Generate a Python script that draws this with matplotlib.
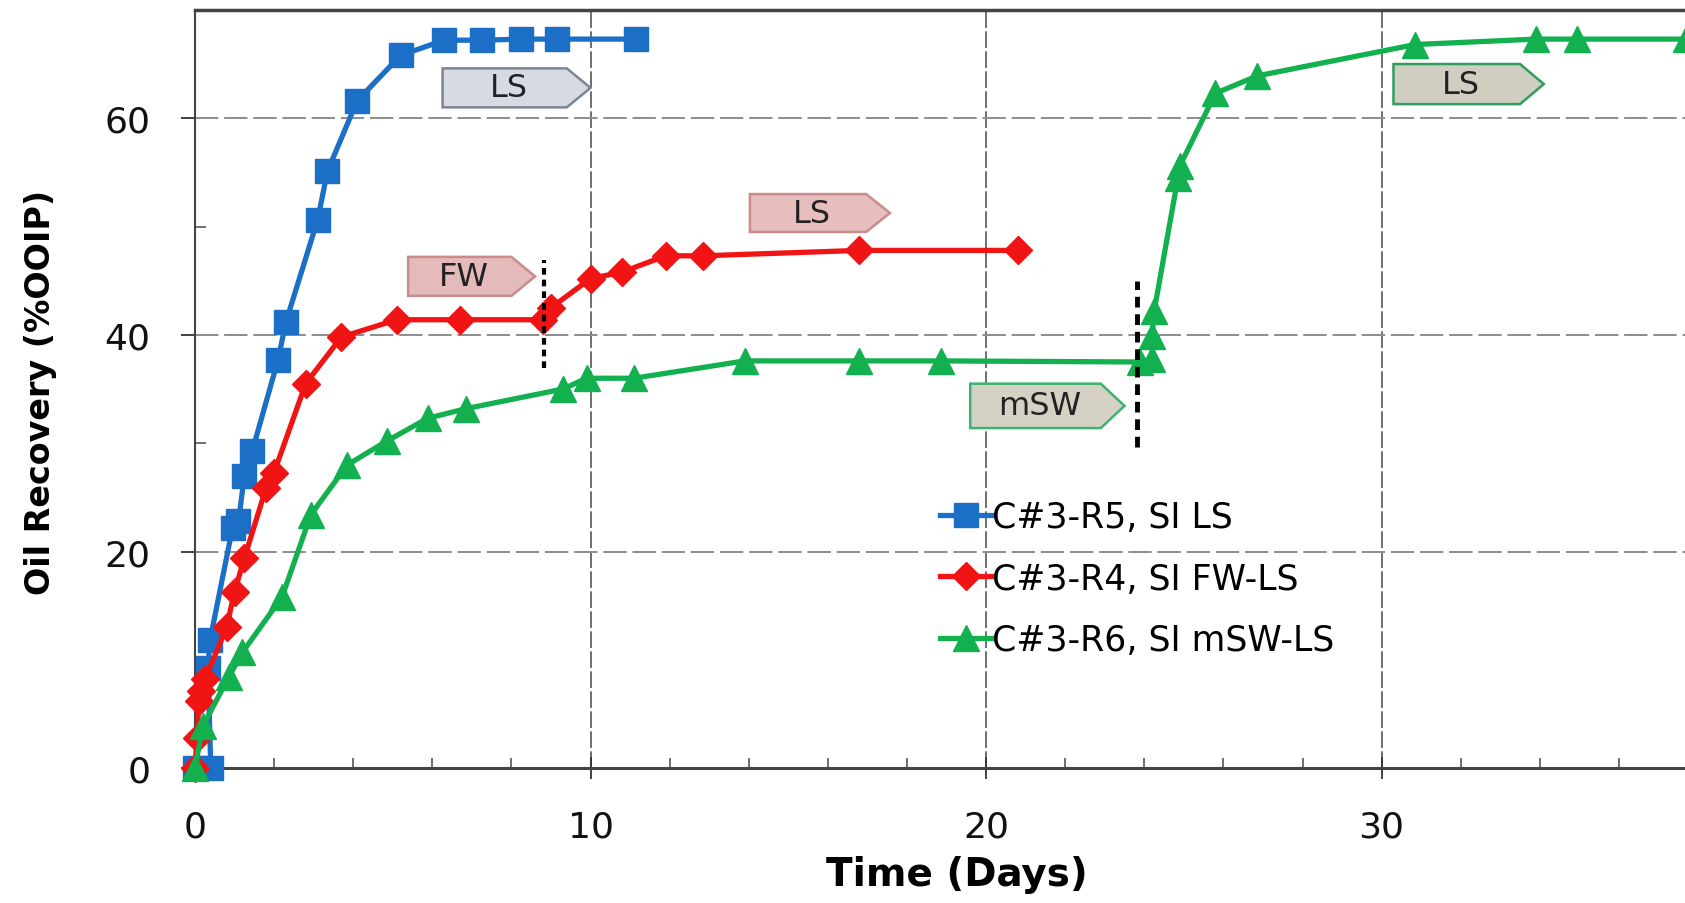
import matplotlib.pyplot as plt
from matplotlib.patches import Polygon
from matplotlib.ticker import MultipleLocator

plt.rcParams['font.family'] = ['DejaVu Sans']

# C#3-R5, SI LS
t_r5 = [0, 0.4, 0.33, 0.38, 0.95, 1.1, 1.25, 1.45, 2.1, 2.3, 3.1, 3.35, 4.1, 5.2, 6.3, 7.25, 8.25, 9.15, 11.15]
oil_r5 = [0, 0, 9.3, 11.8, 22.2, 22.8, 27.0, 29.3, 37.7, 41.2, 50.6, 55.1, 61.6, 65.8, 67.2, 67.2, 67.3, 67.3, 67.3]

# C#3-R4, SI FW-LS
t_r4 = [0, 0.05, 0.1, 0.15, 0.25, 0.8, 1.0, 1.25, 1.8, 2.0, 2.8, 3.7, 5.1, 6.7, 8.8, 9.0, 10.0, 10.8, 11.9, 12.85, 16.8, 20.8]
oil_r4 = [0, 2.8, 6.2, 7.1, 8.2, 13.0, 16.3, 19.4, 25.9, 27.3, 35.5, 39.8, 41.4, 41.4, 41.4, 42.5, 45.2, 45.8, 47.3, 47.3, 47.8, 47.8]

# C#3-R6, SI mSW-LS
t_r6 = [0, 0.2, 0.85, 1.2, 2.2, 2.93, 3.85, 4.85, 5.88, 6.86, 9.3, 9.9, 11.1, 13.9, 16.8, 18.85,
        23.9, 24.2, 24.2, 24.25, 24.85, 24.9, 25.8, 26.85, 30.85, 33.9, 34.95, 37.7]
oil_r6 = [0, 3.9, 8.4, 10.7, 15.8, 23.4, 28.0, 30.2, 32.3, 33.2, 35.0, 36.0, 36.0, 37.6, 37.6, 37.6,
          37.5, 37.8, 39.9, 42.2, 54.5, 55.6, 62.3, 63.9, 66.8, 67.3, 67.3, 67.3]

labels = ['C#3-R5, SI LS', 'C#3-R4, SI FW-LS', 'C#3-R6, SI mSW-LS']

# brine switch tags: text, x start, x end, y bottom, y top
tag_text = ['LS', 'FW', 'LS', 'mSW', 'LS']
tag_x0 = [6.26, 5.39, 14.03, 19.6, 30.3]
tag_x1 = [10.0, 8.6, 17.57, 23.5, 34.1]
tag_y0 = [61.0, 43.6, 49.5, 31.4, 61.3]
tag_y1 = [64.6, 47.2, 53.0, 35.5, 65.0]
tag_fill = ['#d6dae2', '#e5baba', '#e7bdbd', '#d5d2c5', '#d0cec0']
tag_edge = ['#7d8595', '#c98c8c', '#c98c8c', '#3cb36e', '#2e9e5e']

fig = plt.figure(figsize=(16.85, 9.04), dpi=100)
ax = fig.add_axes([0.1157, 0.149, 1 - 0.1157, 0.839])

ax.plot(t_r5, oil_r5, color='#1c6fc6', lw=3.8, marker='s', ms=17, label=labels[0], clip_on=False, zorder=5)
ax.plot(t_r4, oil_r4, color='#f01414', lw=3.8, marker='D', ms=14, label=labels[1], clip_on=False, zorder=5)
ax.plot(t_r6, oil_r6, color='#12b04f', lw=3.8, marker='^', ms=19, label=labels[2], clip_on=False, zorder=5)

# switch markers
ax.plot([8.82, 8.82], [36.9, 46.9], color='black', lw=3, ls=(0, (1.6, 1.2)), zorder=6)
ax.plot([23.81, 23.81], [29.7, 45.0], color='black', lw=3.5, ls=(0, (2.2, 1.4)), zorder=6)

tip = 0.6
for i in range(len(tag_text)):
    x0, x1, y0, y1 = tag_x0[i], tag_x1[i], tag_y0[i], tag_y1[i]
    pts = [(x0, y0), (x1 - tip, y0), (x1, (y0 + y1) / 2), (x1 - tip, y1), (x0, y1)]
    ax.add_patch(Polygon(pts, closed=True, facecolor=tag_fill[i], edgecolor=tag_edge[i], lw=1.8, zorder=7))
    ax.text((x0 + x1 - tip) / 2 + 0.1, (y0 + y1) / 2, tag_text[i], fontsize=23, color='#222222',
            ha='center', va='center', zorder=8)

ax.set_xlim(0, 37.67)
ax.set_ylim(0, 70)
ax.xaxis.set_major_locator(MultipleLocator(10))
ax.xaxis.set_minor_locator(MultipleLocator(2))
ax.yaxis.set_major_locator(MultipleLocator(20))
ax.yaxis.set_minor_locator(MultipleLocator(10))

ax.grid(axis='y', which='major', color='#8c8c8c', lw=1.4, ls=(0, (12, 3)))
ax.grid(axis='x', which='major', color='#555555', lw=1.2, ls=(0, (10, 2)))
ax.set_axisbelow(True)

ax.tick_params(axis='y', which='major', direction='out', length=10, width=1.3, labelsize=26, pad=22, colors='#333333', labelcolor='#111111')
ax.tick_params(axis='y', which='minor', direction='in', length=8, width=1.2, colors='#555555')
ax.tick_params(axis='x', which='major', direction='inout', length=16, width=1.3, labelsize=26, pad=22, colors='#333333', labelcolor='#111111')
ax.tick_params(axis='x', which='minor', direction='in', length=7, width=1.2, colors='#555555')

for s in ['top', 'left', 'bottom']:
    ax.spines[s].set_color('#444444')
ax.spines['top'].set_linewidth(2.5)
ax.spines['left'].set_linewidth(1.5)
ax.spines['bottom'].set_linewidth(2.2)
ax.spines['right'].set_visible(False)

# x label placed in figure coords (sits right on the bottom edge)
fig.text(0.568, 0.032, 'Time (Days)', fontsize=28, fontweight='bold', ha='center', va='center')
ax.set_ylabel('Oil Recovery (%OOIP)', fontsize=24, fontweight='bold', va='center')
ax.yaxis.set_label_coords(-0.1034, 0.497)

ax.legend(loc='upper left', bbox_to_anchor=(0.4997, 0.354), frameon=False, fontsize=25,
          handlelength=1.5, handletextpad=0.0, labelspacing=0.8, borderpad=0, borderaxespad=0)

fig.savefig('out.png', dpi=100)
